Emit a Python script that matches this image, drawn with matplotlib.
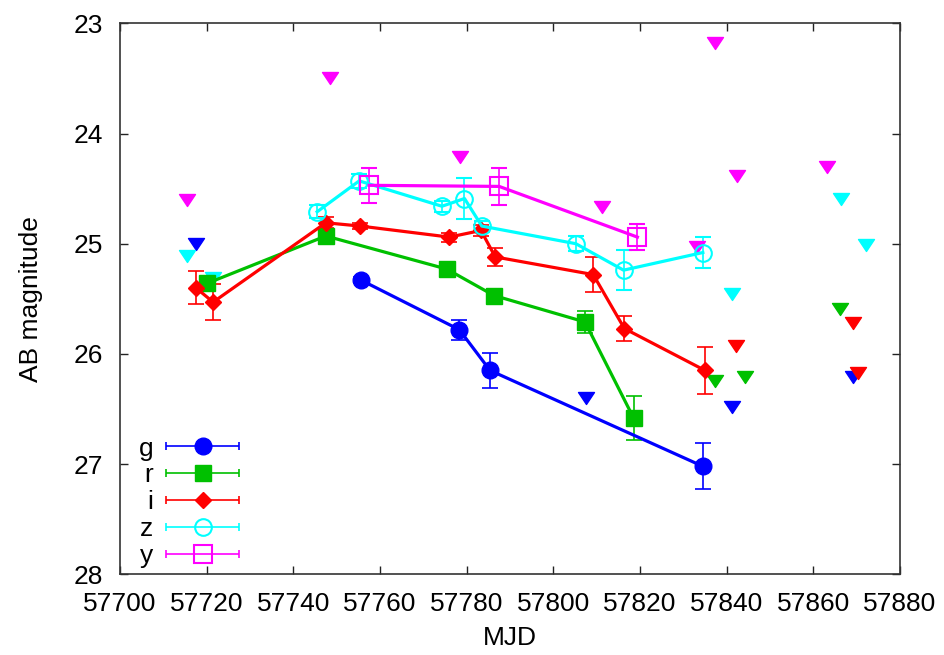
import matplotlib
matplotlib.use("Agg")
import matplotlib.pyplot as plt
import numpy as np
from matplotlib.path import Path
from matplotlib.lines import Line2D
from matplotlib.collections import LineCollection
from matplotlib.container import ErrorbarContainer
from matplotlib.legend_handler import HandlerErrorbar

plt.rcParams['font.family'] = ['Liberation Sans', 'DejaVu Sans']

# detections per band: MJD, AB mag, error
g_mjd = [57755.6, 57778.3, 57785.4, 57834.5]
g_mag = [25.33, 25.78, 26.15, 27.02]
g_err = [0.03, 0.09, 0.16, 0.21]

r_mjd = [57720.1, 57747.5, 57775.4, 57786.3, 57807.3, 57818.5]
r_mag = [25.36, 24.93, 25.23, 25.47, 25.71, 26.58]
r_err = [0.04, 0.03, 0.03, 0.06, 0.10, 0.20]

i_mjd = [57717.5, 57721.5, 57747.5, 57755.5, 57776.0, 57783.3, 57786.6, 57809.2, 57816.4, 57835.0]
i_mag = [25.40, 25.53, 24.81, 24.84, 24.94, 24.88, 25.12, 25.28, 25.77, 26.15]
i_err = [0.15, 0.16, 0.05, 0.03, 0.04, 0.05, 0.08, 0.16, 0.11, 0.21]

z_mjd = [57745.5, 57755.2, 57774.3, 57779.5, 57783.5, 57805.2, 57816.2, 57834.5]
z_mag = [24.71, 24.43, 24.66, 24.59, 24.84, 25.00, 25.24, 25.08]
z_err = [0.06, 0.06, 0.05, 0.19, 0.05, 0.07, 0.18, 0.14]

y_mjd = [57757.5, 57787.5, 57819.4]
y_mag = [24.47, 24.48, 24.94]
y_err = [0.16, 0.17, 0.12]

# upper limits per band
g_lim_mjd = [57717.5, 57807.5, 57841.2, 57869.1]
g_lim_mag = [25.00, 26.40, 26.48, 26.21]
r_lim_mjd = [57837.2, 57844.2, 57866.2]
r_lim_mag = [26.25, 26.21, 25.59]
i_lim_mjd = [57842.2, 57869.2, 57870.2]
i_lim_mag = [25.93, 25.72, 26.17]
z_lim_mjd = [57715.5, 57721.5, 57841.2, 57866.3, 57872.2]
z_lim_mag = [25.11, 25.31, 25.46, 24.59, 25.01]
y_lim_mjd = [57715.5, 57748.5, 57778.5, 57811.2, 57833.2, 57837.3, 57842.3, 57863.1]
y_lim_mag = [24.60, 23.50, 24.21, 24.67, 25.03, 23.18, 24.39, 24.30]

bands = ['g', 'r', 'i', 'z', 'y']
colors = ['#0000ff', '#00c000', '#ff0000', '#00ffff', '#ff00ff']

# wide, flat downward triangle for the limits
tri = Path([(-1, 0.75), (1, 0.75), (0, -0.75), (-1, 0.75)],
           [Path.MOVETO, Path.LINETO, Path.LINETO, Path.CLOSEPOLY])

styles = {
    'g': dict(marker='o', ms=12, mfc='#0000ff'),
    'r': dict(marker='s', ms=12, mfc='#00c000'),
    'i': dict(marker='D', ms=8.5, mfc='#ff0000'),
    'z': dict(marker='o', ms=12, mfc='none', mew=1.5),
    'y': dict(marker='s', ms=12.5, mfc='none', mew=1.5),
}

data = {
    'g': (g_mjd, g_mag, g_err, g_lim_mjd, g_lim_mag),
    'r': (r_mjd, r_mag, r_err, r_lim_mjd, r_lim_mag),
    'i': (i_mjd, i_mag, i_err, i_lim_mjd, i_lim_mag),
    'z': (z_mjd, z_mag, z_err, z_lim_mjd, z_lim_mag),
    'y': (y_mjd, y_mag, y_err, y_lim_mjd, y_lim_mag),
}

fs = 19

fig = plt.figure(figsize=(9.44, 6.55), dpi=100)
ax = fig.add_axes([0.1271, 0.1232, 0.8263, 0.8412])

handles = []
for b, c in zip(bands, colors):
    mjd, mag, err, lmjd, lmag = data[b]
    st = styles[b]
    ax.errorbar(mjd, mag, yerr=err, color=c, lw=2.3, elinewidth=1.2,
                capsize=5.5, capthick=1.2, mec=c, **st)
    ax.plot(lmjd, lmag, linestyle='none', marker=tri, ms=11.5, color=c, mec=c)

    # legend sample with a horizontal error bar
    ln = Line2D([], [], color=c, linestyle='none', mec=c, **st)
    cap = Line2D([], [], color=c, marker='|', ms=6, mew=1.2)
    bar = LineCollection([], colors=c, linewidths=1.2)
    handles.append(ErrorbarContainer((ln, (cap, cap), (bar,)),
                                     has_xerr=True, has_yerr=False, label=b))

ax.set_xlim(57700, 57880)
ax.set_ylim(28, 23)
ax.set_xticks(np.arange(57700, 57881, 20))
ax.set_yticks(np.arange(23, 29, 1))
ax.tick_params(direction='in', length=6, width=1, top=True, right=True,
               labelsize=fs, colors='#222222', labelcolor='black')
ax.tick_params(axis='x', pad=13)
ax.tick_params(axis='y', pad=12)
for s in ax.spines.values():
    s.set_color('#333333')
    s.set_linewidth(1.2)

ax.set_xlabel('MJD', fontsize=fs, labelpad=7)
ax.set_ylabel('AB magnitude', fontsize=fs, labelpad=22)

ax.legend(handles=handles, loc='lower left', bbox_to_anchor=(0.0237, 0.0118),
          frameon=False, markerfirst=False,
          fontsize=fs, handlelength=2.77, handletextpad=0.5, labelspacing=0.105,
          borderaxespad=0, borderpad=0,
          handler_map={ErrorbarContainer: HandlerErrorbar(xerr_size=1.38)})

fig.savefig('out.png', dpi=100)
